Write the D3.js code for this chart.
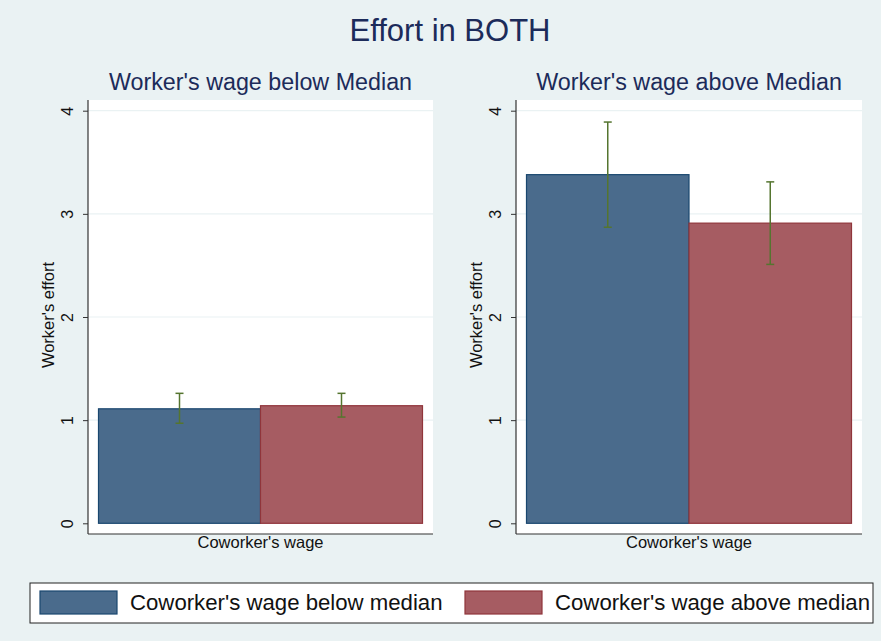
<!DOCTYPE html>
<html>
<head>
<meta charset="utf-8">
<script src="https://cdn.jsdelivr.net/npm/d3@7"></script>
<style>
  body { margin: 0; background: #eaf2f3; }
  svg { display: block; font-family: "Liberation Sans", Arial, sans-serif; }
</style>
</head>
<body>
<div id="chart"></div>
<script>
// data
const panelTitles = ["Worker's wage below Median", "Worker's wage above Median"];
const seriesNames = ["Coworker's wage below median", "Coworker's wage above median"];
const meansBelow = [1.11, 1.14];
const ciLowBelow = [0.97, 1.03];
const ciHighBelow = [1.26, 1.26];
const meansAbove = [3.38, 2.91];
const ciLowAbove = [2.87, 2.51];
const ciHighAbove = [3.89, 3.31];
const yTicks = [0, 1, 2, 3, 4];

const width = 881, height = 641;
const fills = ["#4a6b8c", "#a65c62"];
const strokes = ["#1a476f", "#90353b"];
const ciColor = "#55752f";
const titleColor = "#1c2b5a";

const svg = d3.select('#chart').append('svg')
  .attr('width', width)
  .attr('height', height);

svg.append('rect').attr('width', width).attr('height', height).attr('fill', '#eaf2f3');

svg.append('text')
  .attr('x', 450).attr('y', 41)
  .attr('text-anchor', 'middle')
  .attr('font-size', 31)
  .attr('fill', titleColor)
  .text('Effort in BOTH');

const panels = [
  { title: panelTitles[0], left: 88, right: 433, means: meansBelow, lo: ciLowBelow, hi: ciHighBelow },
  { title: panelTitles[1], left: 516, right: 862, means: meansAbove, lo: ciLowAbove, hi: ciHighAbove }
];

const plotTop = 100, plotBottom = 534;
const y = d3.scaleLinear().domain([0, 4]).range([523.3, 110.7]);

panels.forEach((p) => {
  const g = svg.append('g');

  // subtitle
  g.append('text')
    .attr('x', (p.left + p.right) / 2).attr('y', 90)
    .attr('text-anchor', 'middle')
    .attr('font-size', 23.3)
    .attr('fill', titleColor)
    .text(p.title);

  // plot region
  g.append('rect')
    .attr('x', p.left).attr('y', plotTop)
    .attr('width', p.right - p.left).attr('height', plotBottom - plotTop)
    .attr('fill', '#ffffff');

  // grid
  g.append('g').selectAll('line')
    .data(yTicks.filter(t => t > 0))
    .enter().append('line')
    .attr('x1', p.left).attr('x2', p.right)
    .attr('y1', d => y(d)).attr('y2', d => y(d))
    .attr('stroke', '#eaf2f3').attr('stroke-width', 1.2);

  const x = d3.scaleBand()
    .domain(seriesNames)
    .range([p.left + 10.5, p.right - 10.5])
    .paddingInner(0);

  const data = seriesNames.map((s, i) => ({ key: s, i: i, mean: p.means[i], lo: p.lo[i], hi: p.hi[i] }));

  g.append('g').selectAll('rect')
    .data(data)
    .enter().append('rect')
    .attr('x', d => x(d.key))
    .attr('y', d => y(d.mean))
    .attr('width', x.bandwidth())
    .attr('height', d => y(0) - y(d.mean))
    .attr('fill', d => fills[d.i])
    .attr('stroke', d => strokes[d.i])
    .attr('stroke-width', 1.2);

  // confidence intervals
  const ci = g.append('g').attr('stroke', ciColor).attr('stroke-width', 1.5).attr('fill', 'none');
  data.forEach((d) => {
    const cx = x(d.key) + x.bandwidth() / 2;
    ci.append('line').attr('x1', cx).attr('x2', cx).attr('y1', y(d.lo)).attr('y2', y(d.hi));
    ci.append('line').attr('x1', cx - 4).attr('x2', cx + 4).attr('y1', y(d.lo)).attr('y2', y(d.lo));
    ci.append('line').attr('x1', cx - 4).attr('x2', cx + 4).attr('y1', y(d.hi)).attr('y2', y(d.hi));
  });

  // y axis
  const yAxis = d3.axisLeft(y).tickValues(yTicks).tickSize(5).tickSizeOuter(0).tickFormat(d3.format('d'));
  const ax = g.append('g')
    .attr('transform', `translate(${p.left},0)`)
    .call(yAxis);
  ax.select('.domain').remove();
  ax.selectAll('line').attr('stroke', '#333');
  ax.selectAll('text')
    .attr('font-size', 16)
    .attr('fill', '#111')
    .attr('x', 0).attr('dy', 0)
    .attr('text-anchor', 'middle')
    .attr('transform', 'translate(-15,0) rotate(-90)');

  // axis lines
  g.append('line').attr('x1', p.left).attr('x2', p.left).attr('y1', plotTop).attr('y2', plotBottom)
    .attr('stroke', '#333').attr('stroke-width', 1.2);
  g.append('line').attr('x1', p.left).attr('x2', p.right).attr('y1', plotBottom).attr('y2', plotBottom)
    .attr('stroke', '#333').attr('stroke-width', 1.2);

  // axis titles
  g.append('text')
    .attr('transform', `translate(${p.left - 34},${(plotTop + plotBottom) / 2 - 2}) rotate(-90)`)
    .attr('text-anchor', 'middle')
    .attr('font-size', 16.5)
    .attr('fill', '#111')
    .text("Worker's effort");

  g.append('text')
    .attr('x', (p.left + p.right) / 2).attr('y', 548)
    .attr('text-anchor', 'middle')
    .attr('font-size', 16.5)
    .attr('fill', '#111')
    .text("Coworker's wage");
});

// legend
const legend = svg.append('g');
legend.append('rect')
  .attr('x', 30).attr('y', 583).attr('width', 843).attr('height', 40)
  .attr('fill', '#ffffff').attr('stroke', '#222').attr('stroke-width', 1);

const legendX = [40, 465];
seriesNames.forEach((s, i) => {
  legend.append('rect')
    .attr('x', legendX[i]).attr('y', 591).attr('width', 77).attr('height', 23)
    .attr('fill', fills[i]).attr('stroke', strokes[i]).attr('stroke-width', 1.2);
  legend.append('text')
    .attr('x', legendX[i] + 90).attr('y', 610)
    .attr('font-size', 22.2)
    .attr('fill', '#111')
    .text(s);
});
</script>
</body>
</html>
